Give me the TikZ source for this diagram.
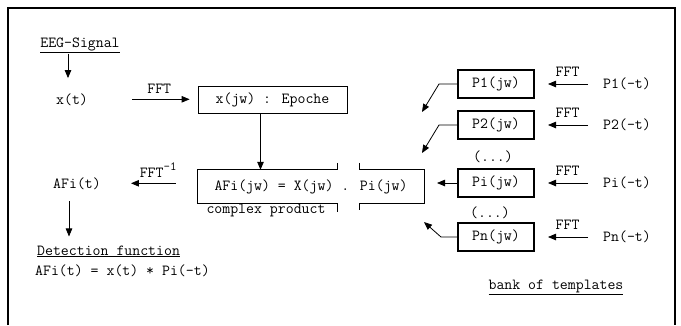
\documentclass[tikz,border=0pt]{standalone}
\usepackage{fontspec}
\usetikzlibrary{arrows.meta,calc,positioning}

\begin{document}
\begin{tikzpicture}[x=1pt,y=-1pt, every node/.style={font=\ttfamily\fontsize{15.4}{17}\selectfont},
  kasten/.style={draw,line width=0.8pt,minimum height=27pt,inner sep=0pt},
  vorlage/.style={draw,line width=2pt,minimum width=76pt,minimum height=28pt,inner sep=0pt},
  pfeil/.style={-{Triangle[length=8pt,width=6.5pt]},line width=0.8pt},
  txt/.style={anchor=base,inner sep=0pt}]
\useasboundingbox (0,0) rectangle (681,325);
% Rahmen, unten offen
\draw[line width=1.6pt] (8,325) -- (8,8) -- (675,8) -- (675,325);

% Signalweg
\node[txt] (sig) at (80,47) {\underline{EEG-Signal}};
\node[txt] (xt) at (72,104) {x(t)};
\node[kasten,minimum width=149pt] (epoche) at (272.5,99.5) {x(jw) : Epoche};
\node[minimum width=226pt,minimum height=33pt,inner sep=0pt] (prod) at (311,186.5) {AFi(jw) = X(jw) . Pi(jw)};
\node[txt] (komplex) at (266,213) {complex product};
\node[txt] (afi) at (77,188) {AFi(t)};
\node[txt,anchor=base west] (det) at (37,255) {\underline{Detection function}};
\node[txt,anchor=base west] (form) at (35,275) {AFi(t) = x(t) * Pi(-t)};

\draw[pfeil] ($(sig.south)+(-12,1)$) -- ($(xt.north)+(-4,-15)$);
\draw[pfeil,shorten <=44pt,shorten >=8pt] (xt.east) -- (xt.east -| epoche.west)
  node[pos=0.65,above=2pt]{FFT};
\draw[pfeil] ([xshift=-12pt]epoche.south) -- ([xshift=-12pt]epoche.south |- prod.north);
\draw[pfeil,shorten <=22pt,shorten >=30pt] (prod.west |- afi.east) -- (afi.east)
  node[pos=0.41,above=2pt]{FFT\raisebox{0.45em}{\fontsize{12.5}{12}\selectfont -1}};
\draw[pfeil] ($(afi.south)+(-8,12)$) -- ++(0,35);

% Produktkasten mit Luecke
\draw[line width=0.8pt] ($(prod.north west)+(140,-7)$) -- ++(0,7) -| (prod.south west) -- ++(140,0) -- ++(0,9);
\draw[line width=0.8pt] ($(prod.north east)+(-65,-7)$) -- ++(0,7) -| (prod.south east) -- ++(-65,0) -- ++(0,7);

% Vorlagen
\foreach \k/\y in {1/84,2/125,i/183,n/237} {
  \node[vorlage] (p\k) at (496,\y) {P\k(jw)};
  \node[inner sep=0pt] (q\k) at (627,\y) {P\k(-t)};
  \draw[pfeil,shorten <=15pt,shorten >=13pt] (q\k.west) -- (p\k.east)
    node[pos=0.52,above=4pt]{FFT};
}
\node (dots1) at (493,157) {(...)};
\node (dots2) at (490,213) {(...)};
\node[txt] (bank) at (556,289) {\underline{bank of templates}};

\draw[pfeil] (p1.west) -- ++(-18,0) -- ++(-17,28);
\draw[pfeil] (p2.west) -- ++(-18,0) -- ++(-17,28);
\draw[pfeil] (pi.west) -- ++(-20,0);
\draw[pfeil] (pn.west) -- ++(-16,0) -- ++(-17,-15);
\end{tikzpicture}
\end{document}
